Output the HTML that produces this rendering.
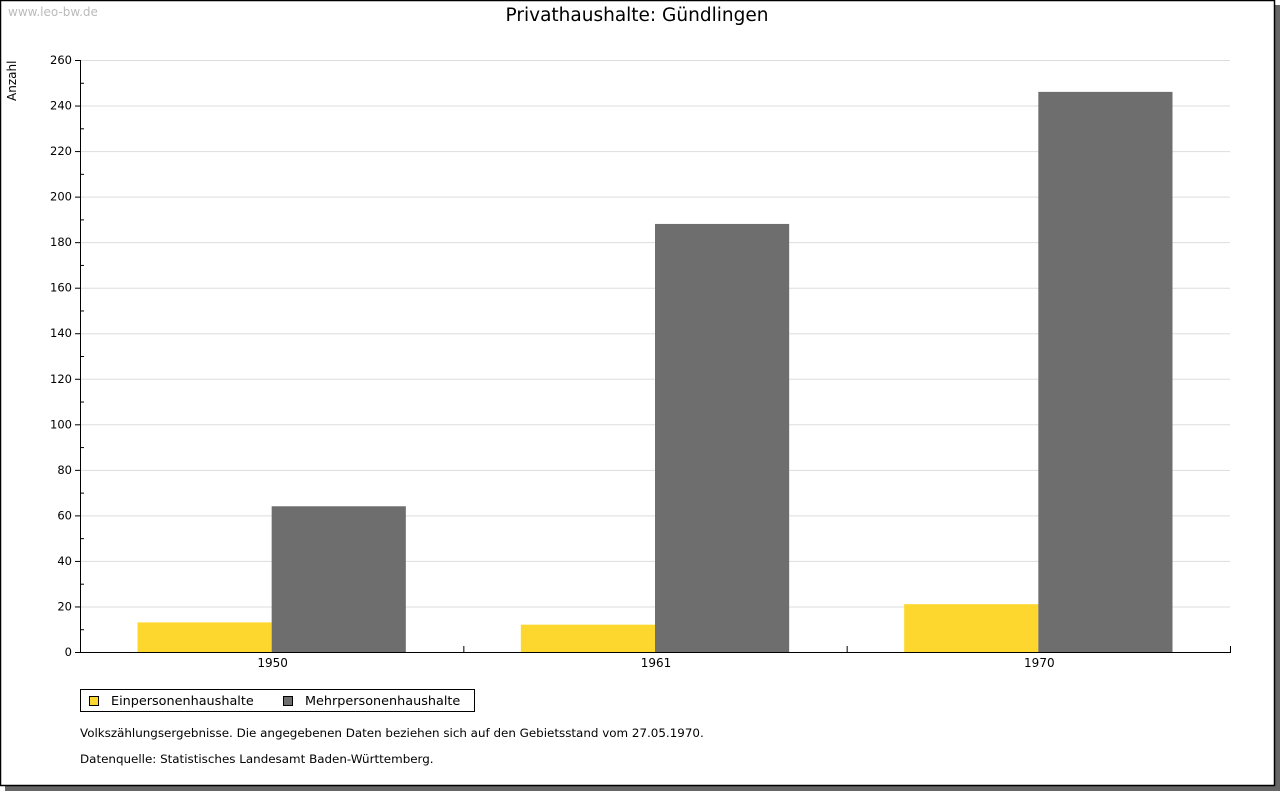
<!DOCTYPE html>
<html><head><meta charset="utf-8"><style>
body{margin:0;width:1280px;height:791px;background:#fff;overflow:hidden;font-family:"DejaVu Sans","Liberation Sans",sans-serif}
</style></head><body>
<svg width="1280" height="791" xmlns="http://www.w3.org/2000/svg" font-family="DejaVu Sans, Liberation Sans, sans-serif">
<rect x="5" y="5" width="1275" height="786" fill="#666"/>
<rect x="0.5" y="0.5" width="1274" height="785" fill="#fff" stroke="#000" stroke-width="1.5"/>
<text x="8" y="16" font-size="12" fill="#bbb">www.leo-bw.de</text>
<text x="637" y="21" font-size="18.5" text-anchor="middle" fill="#000">Privathaushalte: Gündlingen</text>
<text transform="translate(16,101) rotate(-90)" font-size="12" fill="#000">Anzahl</text>
<g id="grid"></g><g id="bars"></g><g id="axes"></g>
<g>
<rect x="80.5" y="689.5" width="394" height="22" fill="#fff" stroke="#000"/>
<rect x="89.5" y="696.5" width="9" height="9" fill="#fdd72d" stroke="#000"/>
<text x="111" y="705" font-size="12.8">Einpersonenhaushalte</text>
<rect x="283.5" y="696.5" width="9" height="9" fill="#6e6e6e" stroke="#000"/>
<text x="305" y="705" font-size="12.8">Mehrpersonenhaushalte</text>
</g>
<text x="80" y="737" font-size="11.9">Volkszählungsergebnisse. Die angegebenen Daten beziehen sich auf den Gebietsstand vom 27.05.1970.</text>
<text x="80" y="763" font-size="11.9">Datenquelle: Statistisches Landesamt Baden-Württemberg.</text>
</svg>
<script>
const categories=["1950","1961","1970"];
const einValues=[13,12,21];
const mehrValues=[64,188,246];
const yTicks=[0,20,40,60,80,100,120,140,160,180,200,220,240,260];
const NS="http://www.w3.org/2000/svg";
const X0=80,X1=1230,Y0=652,Y1=60,YMAX=260;
const y=v=>Y0-(v/YMAX)*(Y0-Y1);
const gw=(X1-X0)/categories.length;
const gx=i=>X0+i*gw;
function mk(t,a,p){const e=document.createElementNS(NS,t);for(const k in a)e.setAttribute(k,a[k]);p.appendChild(e);return e;}
const grid=document.getElementById('grid'),bars=document.getElementById('bars'),axes=document.getElementById('axes');
yTicks.forEach(v=>{
 if(v>0){const l=mk('line',{x1:X0,x2:X1,y1:y(v)+0.5,y2:y(v)+0.5,stroke:'#ddd'},grid);
 
 }
 const t=mk('line',{x1:X0-5,x2:X0,y1:y(v)+0.5,y2:y(v)+0.5,stroke:'#000'},axes);
 
 
 if(v<YMAX){const m=mk('line',{x1:X0,x2:X0+4,y1:y(v+10)+0.5,y2:y(v+10)+0.5,stroke:'#000'},axes);
 
 }
 const tx=mk('text',{x:X0-8,y:y(v)+4,'font-size':11.5,'text-anchor':'end'},axes);
 tx.textContent=v;
 
 
});
const bw=gw*0.35;
categories.forEach((c,i)=>{
 const s=gx(i)+gw*0.15;
 const a=mk('rect',{x:s,y:y(einValues[i]),width:bw,height:Y0-y(einValues[i]),fill:'#fdd72d'},bars);
 
 
 const b=mk('rect',{x:s+bw,y:y(mehrValues[i]),width:bw,height:Y0-y(mehrValues[i]),fill:'#6e6e6e'},bars);
 
 
 const t=mk('text',{x:gx(i)+gw/2+1,y:Y0+15,'font-size':12,'text-anchor':'middle'},axes);
 t.textContent=c;
 
 
 const tk=mk('line',{x1:gx(i+1)+0.5,x2:gx(i+1)+0.5,y1:Y0-6,y2:Y0,stroke:'#000'},axes);
 
 
});
const ya=mk('line',{x1:X0+0.5,x2:X0+0.5,y1:Y1,y2:Y0+0.5,stroke:'#000'},axes);


const xa=mk('line',{x1:X0,x2:X1+1,y1:Y0+0.5,y2:Y0+0.5,stroke:'#000'},axes);


</script>
</body></html>
